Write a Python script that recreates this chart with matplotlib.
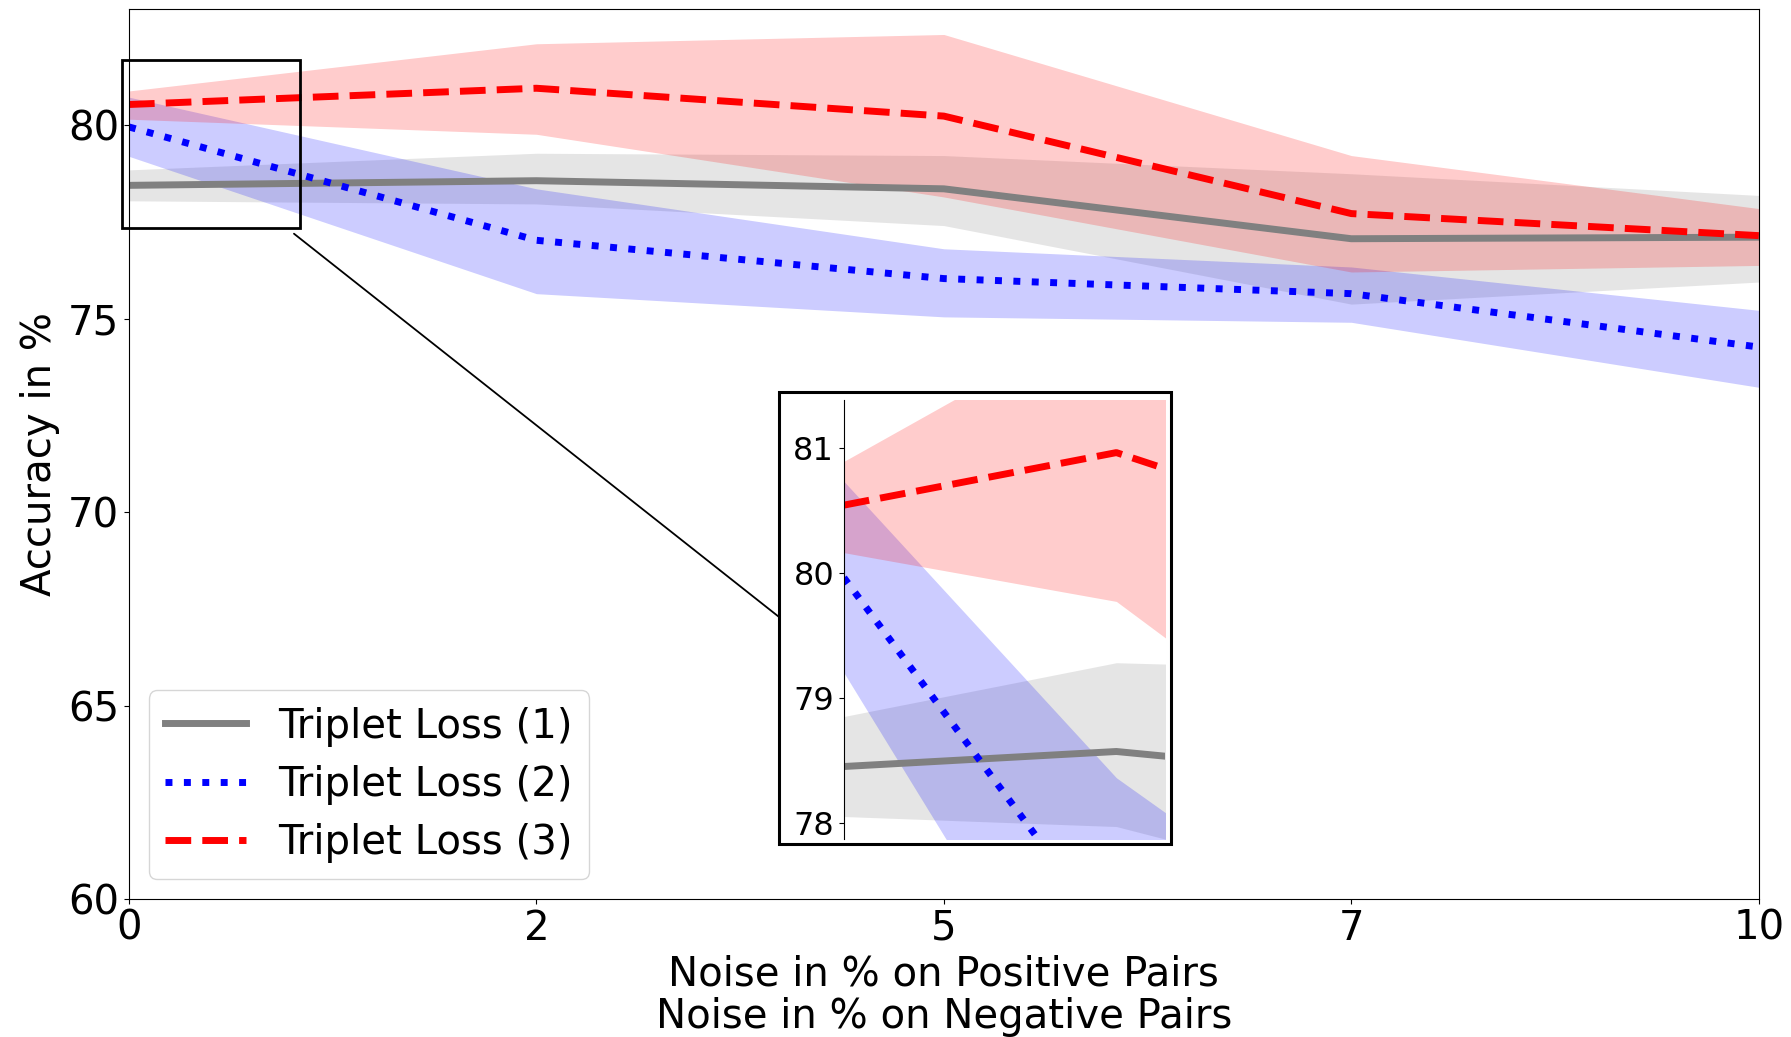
import matplotlib
matplotlib.use("Agg")
import matplotlib.pyplot as plt
from matplotlib.patches import Rectangle, ConnectionPatch

noise_labels = ["0", "2", "5", "7", "10"]
pos = [0, 1, 2, 3, 4]

tl1 = [78.45, 78.57, 78.36, 77.07, 77.11]
tl1_hi = [78.85, 79.28, 79.22, 78.75, 78.19]
tl1_lo = [78.05, 77.97, 77.41, 75.38, 75.95]

tl2 = [79.96, 77.03, 76.04, 75.65, 74.27]
tl2_hi = [80.73, 78.36, 76.81, 76.34, 75.22]
tl2_lo = [79.20, 75.65, 75.05, 74.91, 73.23]

tl3 = [80.54, 80.96, 80.24, 77.72, 77.15]
tl3_hi = [80.89, 82.11, 82.35, 79.22, 77.85]
tl3_lo = [80.16, 79.77, 78.15, 76.21, 76.38]

series = [
    ("Triplet Loss (1)", tl1, tl1_hi, tl1_lo, "gray", "-"),
    ("Triplet Loss (2)", tl2, tl2_hi, tl2_lo, "blue", ":"),
    ("Triplet Loss (3)", tl3, tl3_hi, tl3_lo, "red", "--"),
]

plt.rcParams["font.size"] = 29

fig = plt.figure(figsize=(17.91, 10.37), dpi=100)
ax = fig.add_axes([0.072, 0.133, 0.91, 0.858])

def draw(a):
    for name, y, hi, lo, c, ls in series:
        a.fill_between(pos, lo, hi, color=c, alpha=0.2, linewidth=0)
        a.plot(pos, y, color=c, linestyle=ls, linewidth=5, label=name)

draw(ax)
ax.set_xlim(0, 4)
ax.set_ylim(60, 83)
ax.set_xticks(pos)
ax.set_xticklabels(noise_labels)
ax.set_yticks([60, 65, 70, 75, 80])
ax.set_xlabel("Noise in % on Positive Pairs\nNoise in % on Negative Pairs", labelpad=4,
              linespacing=1.1)
ax.set_ylabel("Accuracy in %", labelpad=6)
ax.legend(loc="lower left", fontsize=29, borderaxespad=0.5, handlelength=2.0,
          labelspacing=0.45)

# zoom marker
ax.add_patch(Rectangle((-0.017, 77.34), 0.437, 4.36, fill=False,
                       edgecolor="black", linewidth=2, clip_on=False, zorder=5))

# inset
ins = fig.add_axes([0.4712, 0.1909, 0.1792, 0.4233])
draw(ins)
ins.set_xlim(0, 1.178)
ins.set_ylim(77.87, 81.38)
ins.set_xticks([])
ins.set_yticks([78, 79, 80, 81])
ins.tick_params(axis="y", labelsize=23)
for s in ["top", "right", "bottom"]:
    ins.spines[s].set_visible(False)

fig.add_artist(Rectangle((0.435, 0.1861), 0.2189, 0.4359, fill=False,
                         edgecolor="black", linewidth=2.2,
                         transform=fig.transFigure))

con = ConnectionPatch(xyA=(0.405, 77.2), coordsA=ax.transData,
                      xyB=(0.435, 0.405), coordsB=fig.transFigure,
                      color="black", linewidth=1.3)
fig.add_artist(con)

fig.savefig("out.png", dpi=100)
